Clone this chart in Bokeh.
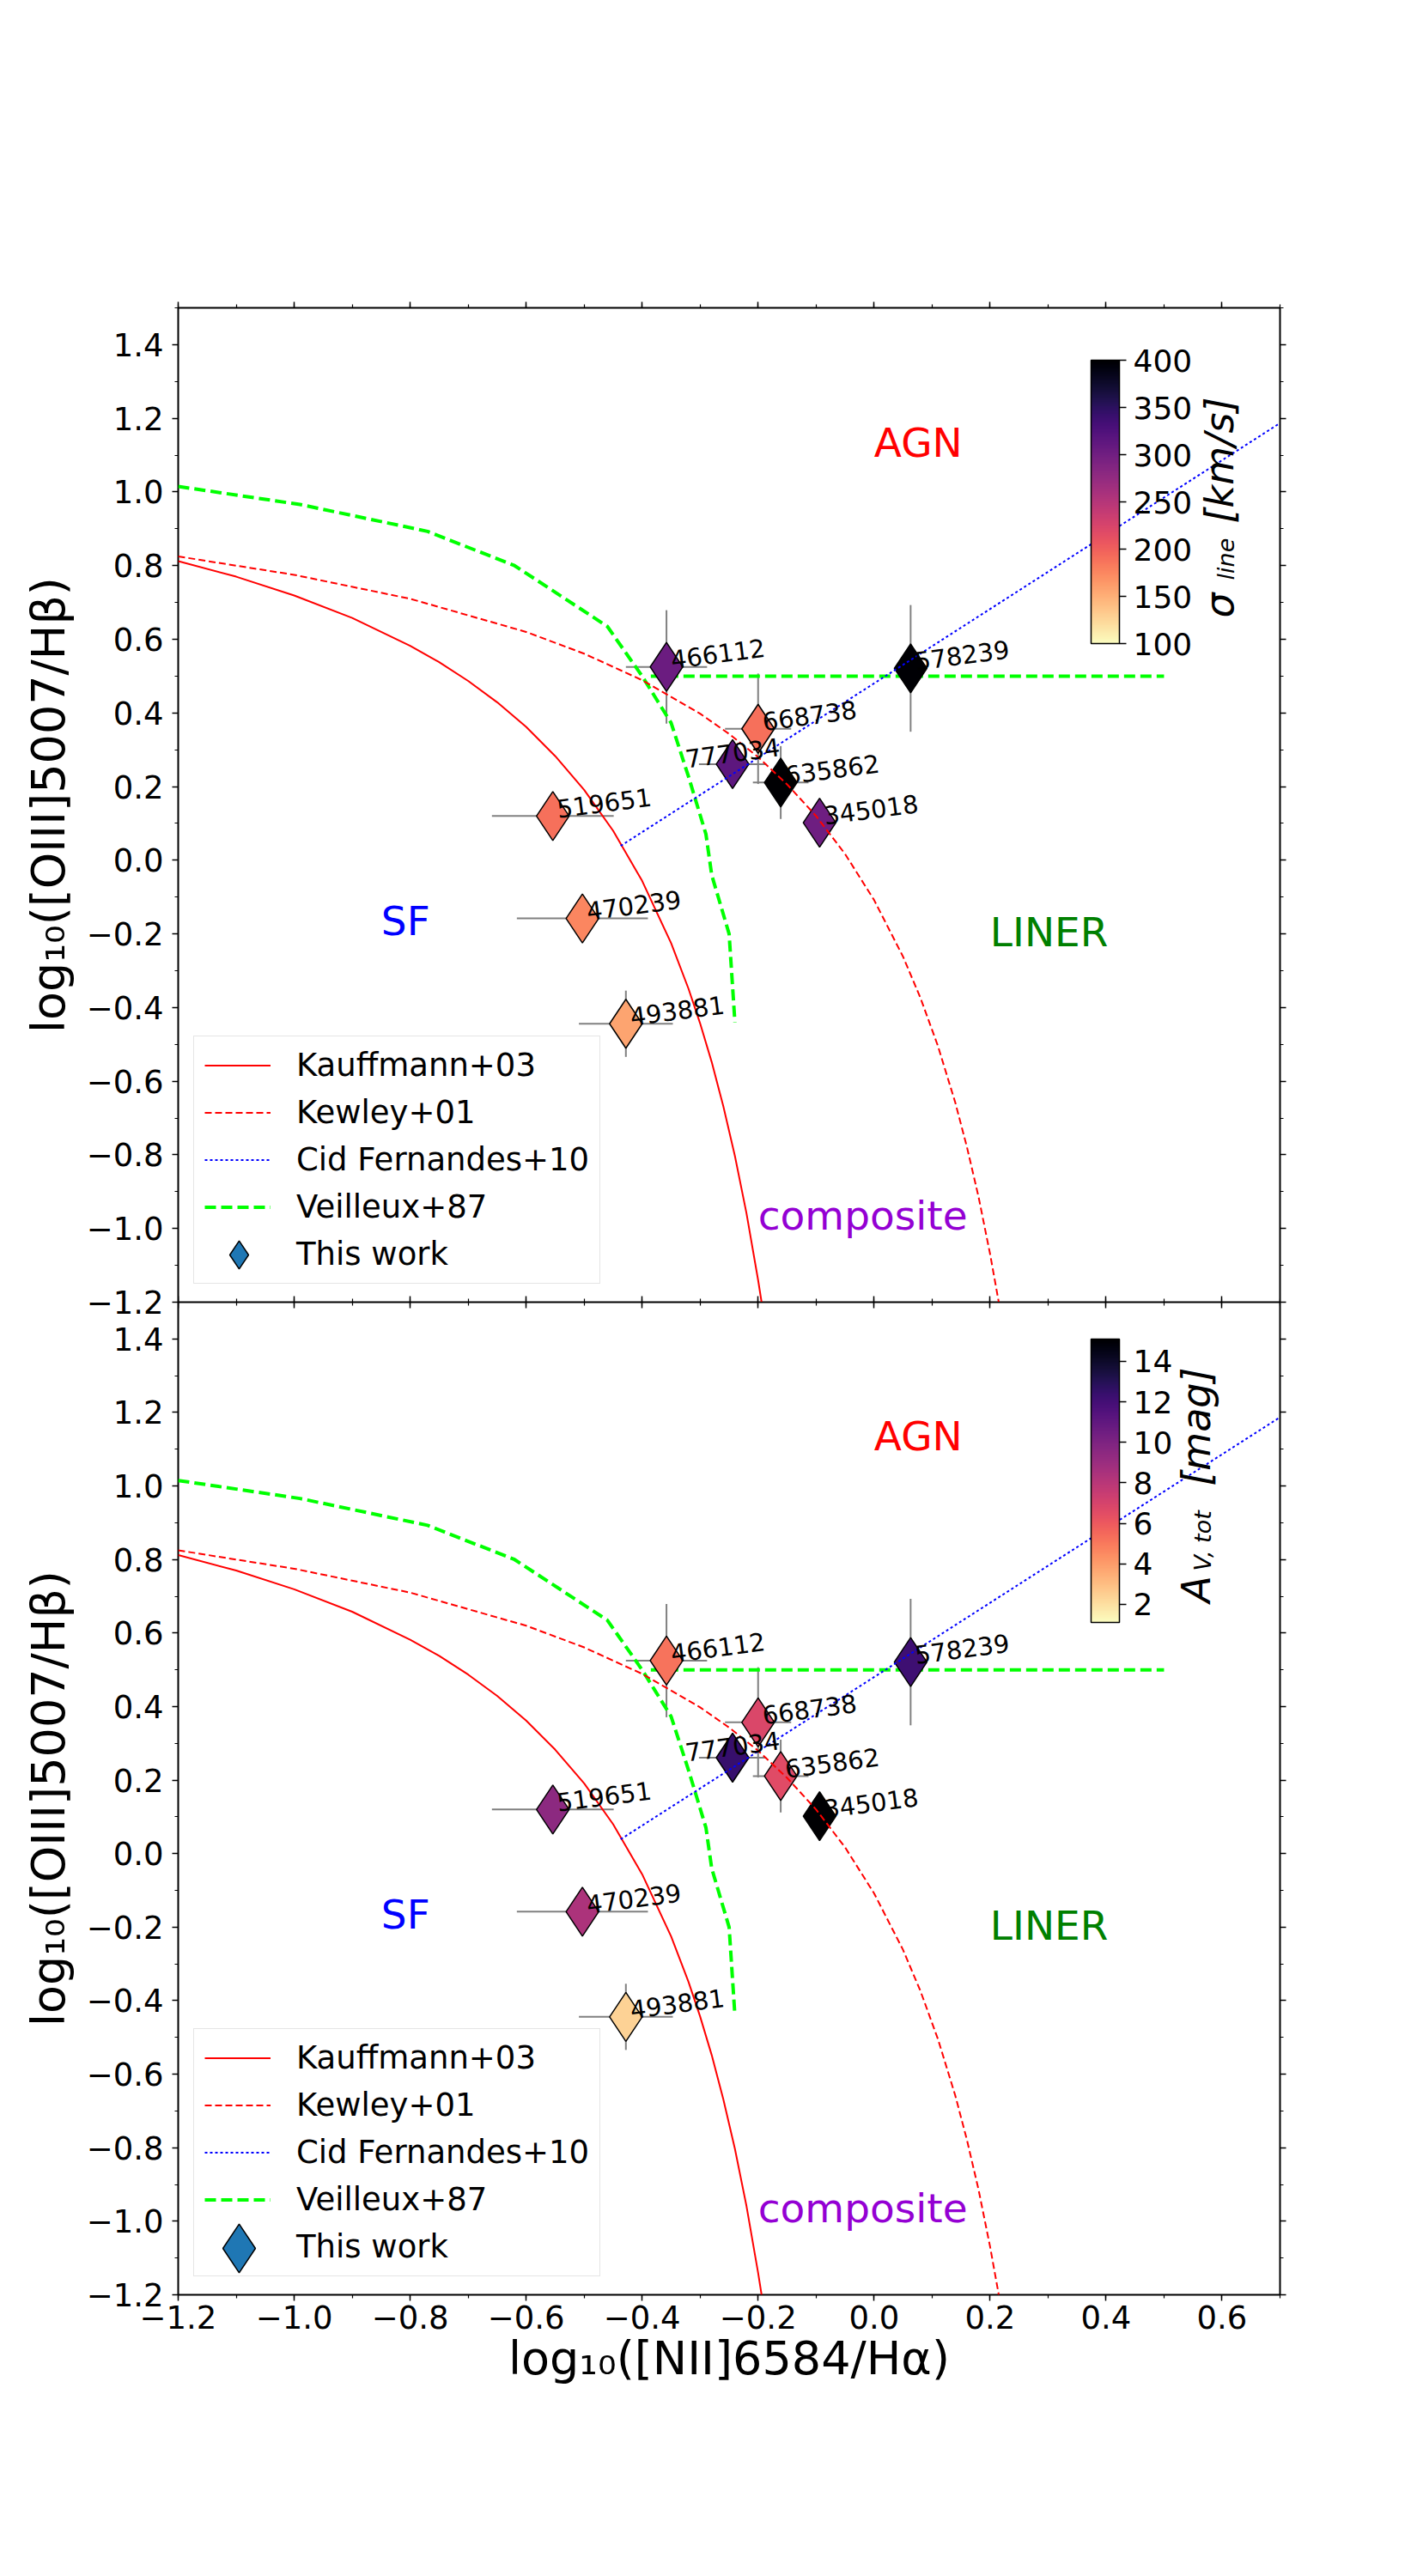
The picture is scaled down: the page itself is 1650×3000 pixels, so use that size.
import math

from bokeh.core.properties import value
from bokeh.embed import file_html
from bokeh.layouts import column
from bokeh.models import (ColorBar, ColumnDataSource, CustomJSTickFormatter, FixedTicker,
                          Label, Legend, LegendItem, LinearAxis, LinearColorMapper, Range1d)
from bokeh.palettes import Magma256
from bokeh.plotting import figure
from bokeh.resources import INLINE
from bokeh.transform import transform

FONT = "DejaVu Sans"

# ---------------------------------------------------------------- galaxies
names = ["466112", "578239", "668738", "777034", "635862", "345018", "519651", "470239", "493881"]
log_nii_ha = [-0.358, 0.063, -0.200, -0.244, -0.161, -0.094, -0.554, -0.503, -0.428]
log_oiii_hb = [0.525, 0.521, 0.357, 0.261, 0.211, 0.102, 0.120, -0.158, -0.444]
err_nii_ha = [0.070, 0.015, 0.057, 0.058, 0.048, 0.015, 0.105, 0.113, 0.081]
err_oiii_hb = [0.154, 0.172, 0.150, 0.040, 0.099, 0.040, 0.040, 0.040, 0.090]
sigma_line = [304, 398, 190, 315, 400, 302, 190, 175, 157]       # km/s
av_tot = [5.2, 12.2, 6.8, 12.4, 6.6, 15.1, 9.5, 8.4, 2.4]         # mag

# ---------------------------------------------------------------- demarcation lines
kauff_x = [-1.2, -1.1, -1.0, -0.9, -0.8, -0.75, -0.7, -0.65, -0.6, -0.55, -0.5, -0.45,
           -0.4, -0.35, -0.32, -0.3, -0.28, -0.26, -0.24, -0.22, -0.20, -0.194]
kauff_y = [0.812, 0.770, 0.719, 0.658, 0.582, 0.538, 0.487, 0.429, 0.362, 0.283, 0.191, 0.080,
           -0.056, -0.225, -0.349, -0.443, -0.548, -0.668, -0.803, -0.959, -1.140, -1.200]

kewley_x = [-1.2, -1.0, -0.8, -0.6, -0.5, -0.4, -0.3, -0.25, -0.2, -0.15, -0.1, -0.05, 0.0,
            0.05, 0.08, 0.11, 0.14, 0.16, 0.18, 0.20, 0.215]
kewley_y = [0.825, 0.775, 0.710, 0.620, 0.561, 0.489, 0.398, 0.343, 0.280, 0.206, 0.120, 0.017,
            -0.108, -0.262, -0.374, -0.504, -0.658, -0.778, -0.913, -1.069, -1.200]

cid_x = [-0.437, 0.70]
cid_y = [0.039, 1.187]

veil_x = [-1.20, -0.99, -0.77, -0.62, -0.46, -0.40, -0.35, -0.32, -0.29, -0.28, -0.25, -0.24]
veil_y = [1.015, 0.966, 0.893, 0.800, 0.635, 0.500, 0.373, 0.227, 0.071, -0.040, -0.200, -0.440]
veil_liner_x = [-0.385, 0.50]
veil_liner_y = [0.50, 0.50]

# ---------------------------------------------------------------- ticks
x_major = [-1.2, -1.0, -0.8, -0.6, -0.4, -0.2, 0.0, 0.2, 0.4, 0.6]
y_major = [-1.2, -1.0, -0.8, -0.6, -0.4, -0.2, 0.0, 0.2, 0.4, 0.6, 0.8, 1.0, 1.2, 1.4]
x_minor = [round(-1.2 + 0.1 * i, 1) for i in range(20)]
y_minor = [round(-1.2 + 0.1 * i, 1) for i in range(28)]
sigma_ticks = [100, 150, 200, 250, 300, 350, 400]
av_ticks = [2, 4, 6, 8, 10, 12, 14]

# label placement of the galaxy ids (alignment, dx, dy in px)
label_layout = {"777034": ("center", 0, -13)}
default_layout = ("left", 5, -8)
lab = [label_layout.get(n, default_layout) for n in names]

src = ColumnDataSource(dict(
    name=names,
    x=log_nii_ha,
    y=log_oiii_hb,
    x_lo=[v - e for v, e in zip(log_nii_ha, err_nii_ha)],
    x_hi=[v + e for v, e in zip(log_nii_ha, err_nii_ha)],
    y_lo=[v - e for v, e in zip(log_oiii_hb, err_oiii_hb)],
    y_hi=[v + e for v, e in zip(log_oiii_hb, err_oiii_hb)],
    sigma=sigma_line,
    av=av_tot,
    lab_align=[l[0] for l in lab],
    lab_dx=[l[1] for l in lab],
    lab_dy=[l[2] for l in lab],
))

magma_r = list(reversed(Magma256))
sigma_mapper = LinearColorMapper(palette=magma_r, low=100, high=400)
av_mapper = LinearColorMapper(palette=magma_r, low=1.1, high=15.1)

minus_fmt = CustomJSTickFormatter(code="""
const s = Math.abs(tick) < 1e-9 ? "0.0" : tick.toFixed(1);
return s.replace("-", "\u2212");
""")
blank_fmt = CustomJSTickFormatter(code="return '';")

SEAM_OVERLAP = 30   # px of the upper canvas that reach under the lower panel


def tick_style(ax, major, minor, out, inn, labelled):
    ax.ticker = FixedTicker(ticks=major, minor_ticks=minor)
    ax.major_tick_out = out
    ax.major_tick_in = inn
    ax.minor_tick_out = 4 if out else 0
    ax.minor_tick_in = 4 if inn else 0
    ax.major_tick_line_color = "black"
    ax.minor_tick_line_color = "black"
    ax.major_tick_line_width = 1.5
    ax.minor_tick_line_width = 1.2
    ax.axis_line_color = None
    if labelled:
        ax.formatter = minus_fmt
        ax.major_label_text_font = FONT
        ax.major_label_text_font_size = "37px"
        ax.major_label_text_color = "black"
        ax.axis_label_text_font = FONT
        ax.axis_label_text_font_size = "54px"
        ax.axis_label_text_font_style = "normal"
        ax.axis_label_text_color = "black"
    else:
        ax.formatter = blank_fmt
        ax.major_label_standoff = 0
        ax.major_label_text_font_size = "1px"


def bpt_panel(fig_h, border_top, border_bottom, bottom_panel, cfield, mapper, cbar_ticks,
              cbar_y, title_parts, key_px, key_cy):
    p = figure(width=1650, height=fig_h,
               x_range=Range1d(-1.2, 0.7), y_range=Range1d(-1.2, 1.5),
               x_axis_location="below" if bottom_panel else None,
               output_backend="svg", toolbar_location=None,
               min_border_left=207, min_border_right=160,
               min_border_top=border_top, min_border_bottom=border_bottom)
    p.grid.visible = False
    p.outline_line_color = "black"
    p.outline_line_width = 2
    p.background_fill_color = "white"
    p.border_fill_color = "white"

    yax = p.yaxis[0]
    tick_style(yax, y_major, y_minor, 7, 0, True)
    yax.major_label_standoff = 10
    yax.axis_label = "log₁₀([OIII]5007/Hβ)"
    yax.axis_label_standoff = 10

    right = LinearAxis()
    tick_style(right, y_major, y_minor, 7, 0, False)
    p.add_layout(right, "right")

    if bottom_panel:
        xax = p.xaxis[0]
        tick_style(xax, x_major, x_minor, 7, 0, True)
        xax.major_label_standoff = 5
        xax.axis_label = "log₁₀([NII]6584/Hα)"
        xax.axis_label_standoff = 0
        seam = LinearAxis(fixed_location=1.5)
        tick_style(seam, x_major, x_minor, 0, 7, False)
        p.add_layout(seam, "above")
        # slide up over the upper canvas; transparent border lets its −1.2 label show
        p.margin = (-SEAM_OVERLAP, 0, 0, 0)
        p.border_fill_alpha = 0
    else:
        top = LinearAxis()
        tick_style(top, x_major, x_minor, 7, 0, False)
        p.add_layout(top, "above")
        seam = LinearAxis(fixed_location=-1.2)
        tick_style(seam, x_major, x_minor, 0, 7, False)
        p.add_layout(seam, "below")

    # error bars
    p.segment(x0="x_lo", y0="y", x1="x_hi", y1="y", source=src, line_color="gray", line_width=2)
    p.segment(x0="x", y0="y_lo", x1="x", y1="y_hi", source=src, line_color="gray", line_width=2)

    # Veilleux & Osterbrock boundary sits below the markers
    veil_style = dict(line_color="#00ff00", line_width=4, line_dash="13 6")
    r_veil = p.line(veil_x, veil_y, **veil_style)
    p.line(veil_liner_x, veil_liner_y, **veil_style)

    p.scatter(x="x", y="y", source=src, marker="diamond", size=57,
              fill_color=transform(cfield, mapper), line_color="black", line_width=1.5)

    r_kauff = p.line(kauff_x, kauff_y, line_color="red", line_width=2)
    r_kew = p.line(kewley_x, kewley_y, line_color="red", line_width=2, line_dash="8 4")
    r_cid = p.line(cid_x, cid_y, line_color="blue", line_width=2, line_dash="3 3")

    p.text(x="x", y="y", text="name", source=src, angle=math.radians(7.5),
           x_offset="lab_dx", y_offset="lab_dy", text_align="lab_align",
           text_baseline="alphabetic", text_font=value(FONT), text_font_size="29px",
           text_color="black")

    for txt, tx, ty, col in [("AGN", 0.0, 1.135, "red"), ("SF", -0.85, -0.165, "blue"),
                             ("LINER", 0.2, -0.195, "green"),
                             ("composite", -0.2, -0.965, "darkviolet")]:
        p.add_layout(Label(x=tx, y=ty, text=txt, text_color=col, text_font=FONT,
                           text_font_size="47px", text_baseline="alphabetic", text_align="left"))

    cb = ColorBar(color_mapper=mapper, ticker=FixedTicker(ticks=cbar_ticks),
                  location=(1063, cbar_y), width=33, height=330, padding=0, margin=0,
                  orientation="vertical", title=None,
                  major_label_text_font=FONT, major_label_text_font_size="36px",
                  major_label_text_color="black", label_standoff=8,
                  major_tick_out=8, major_tick_in=0, major_tick_line_color="black",
                  major_tick_line_width=1.5, minor_tick_line_color=None,
                  bar_line_color="black", bar_line_width=1.5,
                  background_fill_alpha=0, border_line_color=None)
    p.add_layout(cb)

    for txt, tx, ty, size in title_parts:
        p.add_layout(Label(x=tx, y=ty, text=txt, angle=90, angle_units="deg",
                           text_font=FONT, text_font_style="italic", text_font_size=size,
                           text_color="black", text_baseline="alphabetic", text_align="left"))

    # legend: the marker row is drawn by a second, larger key on top
    r_key = p.scatter(x="x", y="y", source=src, marker="diamond", fill_alpha=0,
                      line_alpha=0, visible=False)
    r_key_big = p.scatter(x="x", y="y", source=src, marker="diamond", size=20,
                          fill_color="#1f77b4", line_color="black", line_width=1.5,
                          visible=False)
    legend = Legend(items=[LegendItem(label="Kauffmann+03", renderers=[r_kauff]),
                           LegendItem(label="Kewley+01", renderers=[r_kew]),
                           LegendItem(label="Cid Fernandes+10", renderers=[r_cid]),
                           LegendItem(label="Veilleux+87", renderers=[r_veil]),
                           LegendItem(label="This work", renderers=[r_key])],
                    location=(18, 21), orientation="vertical", margin=0, padding=12,
                    spacing=12, glyph_width=77, glyph_height=43, label_height=43,
                    label_standoff=30, label_text_font=FONT, label_text_font_size="37px",
                    label_text_color="black", border_line_color="#cccccc",
                    border_line_width=1.5, background_fill_color="white",
                    background_fill_alpha=0.8)
    p.add_layout(legend)

    box = int(round(key_px / 0.4))
    key = Legend(items=[LegendItem(label=" ", renderers=[r_key_big])],
                 location=(70.7 - box / 2, key_cy - box / 2), orientation="vertical",
                 margin=0, padding=0, spacing=0, glyph_width=box, glyph_height=box,
                 label_width=0, label_height=0, label_standoff=0,
                 label_text_font_size="1px", border_line_color=None,
                 background_fill_alpha=0)
    p.add_layout(key)
    return p


top = bpt_panel(1516 + SEAM_OVERLAP, 358, SEAM_OVERLAP, False, "sigma", sigma_mapper,
                sigma_ticks, 767,
                [("σ", 0.596, 0.658, "46px"), ("line", 0.607, 0.761, "27px"),
                 ("[km/s]", 0.596, 0.915, "46px")], 33, 55)
bottom = bpt_panel(1470, 0, 314, True, "av", av_mapper, av_ticks, 783,
                   [("A", 0.556, 0.6825, "46px"), ("V, tot", 0.566, 0.769, "27px"),
                    ("[mag]", 0.556, 1.0, "46px")], 57, 54)

layout = column(top, bottom, spacing=0)
open("out.html", "w").write(file_html(layout, INLINE, title="BPT diagram"))
